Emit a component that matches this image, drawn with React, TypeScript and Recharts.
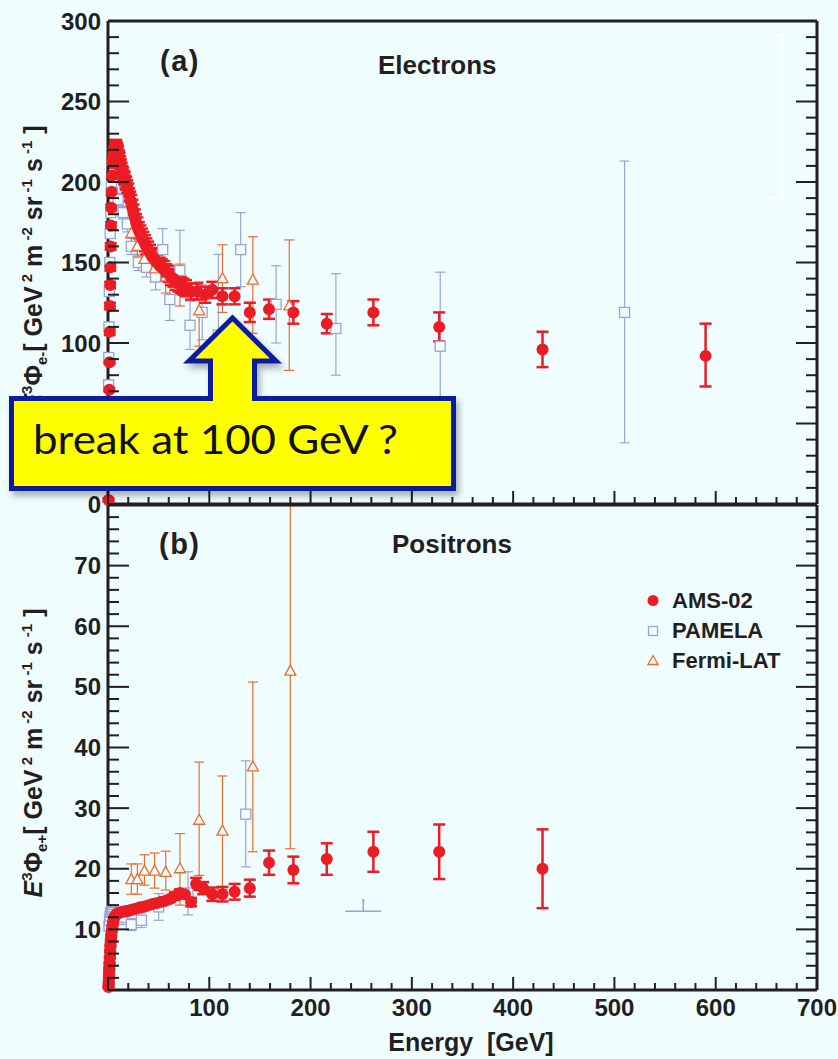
import React from 'react';
import { ScatterChart, Scatter, XAxis, YAxis, ErrorBar } from 'recharts';

const BG = '#effdff';
const INK = '#231f20';
const RED = '#ec1c24';
const BLUE = '#9ca2d6';
const ORANGE = '#f26a2b';
const FONT = '"Liberation Sans", Arial, Helvetica, sans-serif';

// ---------- tick values ----------
const xTicks = Array.from({ length: 36 }, (_, i) => i * 20);
const xLabels = [100, 200, 300, 400, 500, 600, 700];
const yTicksTop = Array.from({ length: 31 }, (_, i) => i * 10);
const yLabelsTop = [0, 50, 100, 150, 200, 250, 300];
const yTicksBottom = Array.from({ length: 41 }, (_, i) => i * 2);
const yLabelsBottom = [10, 20, 30, 40, 50, 60, 70];

// ---------- (a) electrons ----------
const amsEleE = [
  0.5, 0.7, 0.9, 1.1, 1.3, 1.5, 1.7, 1.9, 2.1, 2.3, 2.6, 2.9, 3.2, 3.6, 4.0,
  4.5, 4.8, 5.2, 5.5, 5.8, 6.1, 6.5, 6.9, 7.3, 7.7, 8.1, 8.5, 9.0, 9.5, 10, 10.5, 11, 11.5, 12, 12.7,
  13.5, 14.2, 15, 15.7, 16.5, 17.2, 18, 19, 20, 21, 22, 23, 24, 25.2, 26.5, 27.7, 29, 30.5, 32, 33.5,
  35, 36.5, 38, 39.7, 41.5, 43.2, 45, 47, 49, 51, 53, 55, 57.5, 59.7, 62, 64.5, 67, 69.5, 72, 74.5, 77, 82,
  88, 96, 103, 113, 125, 140, 159, 183, 216, 262, 327, 429, 590,
];
const amsEleV = [
  2.5, 20, 38, 55, 71, 88, 107, 123, 136, 147, 160, 173, 184, 194, 204,
  212, 214, 216, 218, 220, 221, 222, 223, 223, 223, 222, 221, 220, 219, 218, 216, 215, 214, 212, 210,
  208, 206, 205, 203, 202, 200, 199, 197, 195, 192, 189, 187, 184, 181, 178, 175, 173, 170, 168, 166,
  164, 162, 160, 158, 156, 154, 153, 151, 150, 148, 147, 146, 144, 143, 141, 140, 138, 137, 136, 135, 134, 132,
  132, 130, 133, 129, 129, 119, 121, 119, 112, 119, 110, 96, 92,
];
const amsEleLo = [
  1, 1, 1, 1, 1, 1, 2, 2, 2, 2, 2, 2, 2, 2, 2,
  3, 3, 3, 3, 3, 3, 3, 3, 3, 3, 4, 4, 4, 4, 4, 4, 4, 4, 4, 4,
  4, 4, 4, 4, 4, 4, 4, 4, 4, 4, 5, 5, 5, 5, 5, 5, 5, 5, 5, 5,
  5, 5, 5, 5, 5, 5, 5, 5, 5, 5, 5, 5, 5, 5, 5, 5, 5, 5, 5, 5, 5, 5,
  5, 5, 5, 5, 5, 6, 6, 7, 6, 8, 9, 11, 19,
];
const amsEleHi = [
  1, 1, 1, 1, 1, 1, 2, 2, 2, 2, 2, 2, 2, 2, 2,
  3, 3, 3, 3, 3, 3, 3, 3, 3, 3, 4, 4, 4, 4, 4, 4, 4, 4, 4, 4,
  4, 4, 4, 4, 4, 4, 4, 4, 4, 4, 5, 5, 5, 5, 5, 5, 5, 5, 5, 5,
  5, 5, 5, 5, 5, 5, 5, 5, 5, 5, 5, 5, 5, 5, 5, 5, 5, 5, 5, 5, 5, 5,
  5, 5, 5, 5, 5, 6, 6, 7, 6, 8, 9, 11, 20,
];

const pamEleE = [0.6, 0.8, 1.0, 1.3, 1.7, 2.2, 2.8, 3.4, 10, 15, 19, 23, 30, 38, 47, 54, 61, 71, 81, 93, 109, 131, 166, 225, 328, 510];
const pamEleV = [74, 91, 110, 132, 150, 168, 181, 197, 189, 181, 174, 160, 150, 147, 141, 158, 127, 145, 111, 119, 105, 158, 124, 109, 98, 119];
const pamEleLo = [3, 3, 3, 3, 3, 3, 3, 3, 4, 4, 5, 5, 5, 6, 8, 10, 13, 15, 15, 17, 50, 23, 24, 29, 46, 81];
const pamEleHi = [3, 3, 3, 3, 3, 3, 3, 3, 4, 4, 5, 5, 5, 6, 8, 13, 13, 25, 15, 17, 50, 23, 24, 34, 46, 94];

const fermiEleE = [23, 29, 36, 46, 57, 71, 90, 113, 143, 179];
const fermiEleV = [168, 160, 152, 146, 141, 136, 120, 140, 139, 123];
const fermiEleLo = [6, 6, 7, 8, 10, 13, 22, 21, 33, 40];
const fermiEleHi = [6, 6, 7, 8, 10, 13, 18, 21, 27, 41];

// ---------- (b) positrons ----------
const amsPosE = [0.5, 0.7, 0.9, 1.1, 1.3, 1.5, 1.8, 2.1, 2.4, 2.8, 3.2, 3.7, 4.2, 4.8, 5.5, 6.3, 7.2, 8.2, 9.3, 10.5, 12, 13.5, 15, 17, 19, 21, 23, 25.5, 28, 31, 34, 37, 40.5, 44, 48, 52, 56.5, 61, 66, 71, 76, 82, 87, 94, 103, 113, 125, 140, 159, 183, 216, 262, 327, 429];
const amsPosV = [0.5, 1.2, 2.0, 2.8, 3.6, 4.4, 5.4, 6.4, 7.3, 8.2, 9.0, 9.8, 10.5, 11.1, 11.6, 12.0, 12.3, 12.5, 12.6, 12.7, 12.8, 12.9, 12.9, 13.0, 13.0, 13.1, 13.2, 13.3, 13.4, 13.6, 13.7, 13.8, 14.0, 14.2, 14.3, 14.5, 14.7, 15.0, 15.5, 16.0, 15.8, 14.5, 17.5, 16.8, 15.8, 15.8, 16.2, 16.8, 21.0, 19.8, 21.6, 22.8, 22.8, 20.0];
const amsPosLo = [0.2, 0.2, 0.2, 0.2, 0.2, 0.2, 0.2, 0.2, 0.2, 0.2, 0.2, 0.2, 0.2, 0.2, 0.2, 0.2, 0.2, 0.2, 0.2, 0.2, 0.3, 0.3, 0.3, 0.3, 0.3, 0.3, 0.3, 0.3, 0.3, 0.3, 0.3, 0.3, 0.4, 0.4, 0.4, 0.4, 0.5, 0.5, 0.6, 0.6, 0.7, 0.7, 1.0, 1.0, 1.1, 1.2, 1.3, 1.4, 2.0, 2.2, 2.6, 3.3, 4.5, 6.5];
const amsPosHi = [0.2, 0.2, 0.2, 0.2, 0.2, 0.2, 0.2, 0.2, 0.2, 0.2, 0.2, 0.2, 0.2, 0.2, 0.2, 0.2, 0.2, 0.2, 0.2, 0.2, 0.3, 0.3, 0.3, 0.3, 0.3, 0.3, 0.3, 0.3, 0.3, 0.3, 0.3, 0.3, 0.4, 0.4, 0.4, 0.4, 0.5, 0.5, 0.6, 0.6, 0.7, 0.7, 1.0, 1.0, 1.1, 1.2, 1.3, 1.4, 2.0, 2.2, 2.6, 3.3, 4.5, 6.5];

const pamPosE = [1.0, 1.5, 2.0, 2.7, 3.5, 4.5, 6, 8, 14, 23, 33, 50, 79, 136];
const pamPosV = [10.5, 11.5, 12.2, 12.8, 13.0, 12.8, 12.5, 12.0, 12.0, 10.8, 11.5, 13.7, 16.0, 29.0];
const pamPosLo = [0.5, 0.5, 0.5, 0.5, 0.5, 0.5, 0.6, 0.6, 1.2, 1.0, 1.2, 2.2, 3.6, 8.7];
const pamPosHi = [0.5, 0.5, 0.5, 0.5, 0.5, 0.5, 0.6, 0.6, 1.2, 1.0, 1.2, 2.2, 3.5, 8.8];
const pamPosLimitE = [252];
const pamPosLimitV = [13];

const fermiPosE = [23, 29, 36, 46, 57, 71, 90, 113, 143, 180];
const fermiPosV = [18.2, 18.2, 19.6, 19.6, 19.4, 20.0, 28.0, 26.2, 36.8, 52.6];
const fermiPosLo = [2.4, 2.4, 2.3, 2.8, 2.9, 6.0, 9.1, 9.6, 14.0, 29.3];
const fermiPosHi = [2.6, 2.6, 2.7, 3.0, 3.5, 5.8, 9.6, 9.1, 14.0, 27.3];

const rows = (E: number[], V: number[], Lo: number[], Hi: number[]) =>
  E.map((x, i) => ({ x, y: V[i], err: [Lo[i], Hi[i]] }));

const amsEle = rows(amsEleE, amsEleV, amsEleLo, amsEleHi);
const pamEle = rows(pamEleE, pamEleV, pamEleLo, pamEleHi);
const fermiEle = rows(fermiEleE, fermiEleV, fermiEleLo, fermiEleHi);
const amsPos = rows(amsPosE, amsPosV, amsPosLo, amsPosHi);
const pamPos = rows(pamPosE, pamPosV, pamPosLo, pamPosHi);
const fermiPos = rows(fermiPosE, fermiPosV, fermiPosLo, fermiPosHi);
const pamPosLimit = pamPosLimitE.map((x, i) => ({ x, y: pamPosLimitV[i] }));

// ---------- shapes ----------
const circleShape = (p: any) => <circle cx={p.cx} cy={p.cy} r={6} fill={RED} />;
const squareShape = (p: any) => (
  <rect x={p.cx - 5} y={p.cy - 5} width={10} height={10} fill={BG} stroke={BLUE} strokeWidth={1.3} />
);
const triShape = (p: any) => (
  <polygon
    points={`${p.cx},${p.cy - 6} ${p.cx - 5.5},${p.cy + 4} ${p.cx + 5.5},${p.cy + 4}`}
    fill={BG}
    stroke={ORANGE}
    strokeWidth={1.3}
  />
);
const limitShape = (p: any) => (
  <g stroke={BLUE} strokeWidth={1.5}>
    <line x1={p.cx - 18} x2={p.cx + 18} y1={p.cy} y2={p.cy} />
    <line x1={p.cx} x2={p.cx} y1={p.cy} y2={p.cy - 11} />
    <line x1={p.cx - 1.5} x2={p.cx + 1.5} y1={p.cy - 11} y2={p.cy - 11} />
  </g>
);

// ---------- ticks ----------
type Side = 'bottom' | 'top' | 'left' | 'right';
function makeTick(side: Side, majorEvery: number, labels: number[], majorLen: number, minorLen: number) {
  return (props: any) => {
    const { x, y, payload } = props;
    const v = payload.value;
    const major = Math.abs(v % majorEvery) < 1e-9;
    const len = major ? majorLen : minorLen;
    let line: any = null;
    if (side === 'bottom') line = <line x1={x} x2={x} y1={y} y2={y - len} />;
    if (side === 'top') line = <line x1={x} x2={x} y1={y} y2={y + len} />;
    if (side === 'left') line = <line x1={x} x2={x + len} y1={y} y2={y} />;
    if (side === 'right') line = <line x1={x} x2={x - len} y1={y} y2={y} />;
    let label: any = null;
    if (labels.includes(v)) {
      if (side === 'bottom')
        label = (
          <text x={x} y={y + 26} textAnchor="middle" fontFamily={FONT} fontWeight="bold" fontSize={24} fill={INK} stroke="none">
            {v}
          </text>
        );
      if (side === 'left')
        label = (
          <text x={x - 7} y={y + 8.5} textAnchor="end" fontFamily={FONT} fontWeight="bold" fontSize={24} fill={INK} stroke="none">
            {v}
          </text>
        );
    }
    return (
      <g stroke={INK} strokeWidth={2}>
        {line}
        {label}
      </g>
    );
  };
}

const frame = { stroke: INK, strokeWidth: 3 };

function YTitle({ cx, cy, sign }: { cx: number; cy: number; sign: string }) {
  const sup = 15;
  const d = 10;
  return (
    <text x={cx} y={cy} transform={`rotate(-90 ${cx} ${cy})`} textAnchor="middle" fontFamily={FONT} fontWeight="bold" fontSize={25} fill={INK}>
      <tspan fontStyle="italic">E</tspan>
      <tspan fontSize={sup} dy={-d}>3</tspan>
      <tspan dy={d}>Φ</tspan>
      <tspan fontSize={sup} dy={5}>{'e' + sign}</tspan>
      <tspan dy={-5}>[ GeV</tspan>
      <tspan fontSize={sup} dy={-d}>{'\u00a02'}</tspan>
      <tspan dy={d}>{'\u00a0m'}</tspan>
      <tspan fontSize={sup} dy={-d}>{'\u00a0-2'}</tspan>
      <tspan dy={d}>{'\u00a0sr'}</tspan>
      <tspan fontSize={sup} dy={-d}>{'\u00a0-1'}</tspan>
      <tspan dy={d}>{'\u00a0s'}</tspan>
      <tspan fontSize={sup} dy={-d}>{'\u00a0-1'}</tspan>
      <tspan dy={d}>{'\u00a0]'}</tspan>
    </text>
  );
}

export default function App() {
  return (
    <div style={{ position: 'absolute', left: 0, top: 0, width: 838, height: 1059, background: BG, overflow: 'hidden' }}>
      {/* (a) Electrons */}
      <div style={{ position: 'absolute', left: 0, top: 0 }}>
        <ScatterChart width={838} height={530} margin={{ top: 0, right: 0, bottom: 0, left: 0 }}>
          <XAxis xAxisId={0} dataKey="x" type="number" domain={[0, 700]} ticks={xTicks} interval={0} orientation="bottom" height={26} tickSize={0} tickMargin={0} tickLine={false} axisLine={frame} tick={makeTick('bottom', 100, [], 13, 7)} />
          <XAxis xAxisId="t" type="number" domain={[0, 700]} allowDataOverflow ticks={xTicks} interval={0} orientation="top" height={21} tickSize={0} tickMargin={0} tickLine={false} axisLine={frame} tick={makeTick('top', 100, [], 13, 7)} />
          <YAxis yAxisId={0} dataKey="y" type="number" domain={[0, 300]} ticks={yTicksTop} interval={0} orientation="left" width={108} tickSize={0} tickMargin={0} tickLine={false} axisLine={frame} tick={makeTick('left', 50, yLabelsTop, 21, 11)} />
          <YAxis yAxisId="r" type="number" domain={[0, 300]} allowDataOverflow ticks={yTicksTop} interval={0} orientation="right" width={21} tickSize={0} tickMargin={0} tickLine={false} axisLine={frame} tick={makeTick('right', 50, [], 21, 11)} />
          <Scatter name="PAMELA" data={pamEle} shape={squareShape} isAnimationActive={false}>
            <ErrorBar dataKey="err" direction="y" width={5} strokeWidth={1.2} stroke={BLUE} />
          </Scatter>
          <Scatter name="Fermi-LAT" data={fermiEle} shape={triShape} isAnimationActive={false}>
            <ErrorBar dataKey="err" direction="y" width={5} strokeWidth={1.2} stroke={ORANGE} />
          </Scatter>
          <Scatter name="AMS-02" data={amsEle} shape={circleShape} isAnimationActive={false}>
            <ErrorBar dataKey="err" direction="y" width={6} strokeWidth={2.5} stroke={RED} />
          </Scatter>
        </ScatterChart>
      </div>

      {/* (b) Positrons */}
      <div style={{ position: 'absolute', left: 0, top: 484 }}>
        <ScatterChart width={838} height={575} margin={{ top: 0, right: 0, bottom: 0, left: 0 }}>
          <XAxis xAxisId={0} dataKey="x" type="number" domain={[0, 700]} ticks={xTicks} interval={0} orientation="bottom" height={69} tickSize={0} tickMargin={0} tickLine={false} axisLine={frame} tick={makeTick('bottom', 100, xLabels, 13, 7)} />
          <XAxis xAxisId="t" type="number" domain={[0, 700]} allowDataOverflow ticks={xTicks} interval={0} orientation="top" height={21} tickSize={0} tickMargin={0} tickLine={false} axisLine={frame} tick={makeTick('top', 100, [], 13, 7)} />
          <YAxis yAxisId={0} dataKey="y" type="number" domain={[0, 80]} ticks={yTicksBottom} interval={0} orientation="left" width={108} tickSize={0} tickMargin={0} tickLine={false} axisLine={frame} tick={makeTick('left', 10, yLabelsBottom, 21, 11)} />
          <YAxis yAxisId="r" type="number" domain={[0, 80]} allowDataOverflow ticks={yTicksBottom} interval={0} orientation="right" width={21} tickSize={0} tickMargin={0} tickLine={false} axisLine={frame} tick={makeTick('right', 10, [], 21, 11)} />
          <Scatter name="PAMELA" data={pamPos} shape={squareShape} isAnimationActive={false}>
            <ErrorBar dataKey="err" direction="y" width={5} strokeWidth={1.2} stroke={BLUE} />
          </Scatter>
          <Scatter name="PAMELA limit" data={pamPosLimit} shape={limitShape} isAnimationActive={false} />
          <Scatter name="Fermi-LAT" data={fermiPos} shape={triShape} isAnimationActive={false}>
            <ErrorBar dataKey="err" direction="y" width={5} strokeWidth={1.2} stroke={ORANGE} />
          </Scatter>
          <Scatter name="AMS-02" data={amsPos} shape={circleShape} isAnimationActive={false}>
            <ErrorBar dataKey="err" direction="y" width={6} strokeWidth={2.5} stroke={RED} />
          </Scatter>
        </ScatterChart>
      </div>

      {/* annotations */}
      <svg width={838} height={1059} style={{ position: 'absolute', left: 0, top: 0, pointerEvents: 'none' }}>
        <defs>
          <filter id="shadow" x="-10%" y="-20%" width="125%" height="150%">
            <feDropShadow dx="3" dy="5" stdDeviation="3" floodColor="#000" floodOpacity="0.3" />
          </filter>
        </defs>
        <path d="M 661 35 H 783 V 198 H 661" fill="none" stroke="#ffffff" strokeWidth={1.5} />
        <text x={160} y={71} fontFamily={FONT} fontWeight="bold" fontSize={29} letterSpacing={1.5} fill={INK}>(a)</text>
        <text x={378} y={74} fontFamily={FONT} fontWeight="bold" fontSize={26} fill={INK}>Electrons</text>
        <text x={159} y={554} fontFamily={FONT} fontWeight="bold" fontSize={29} letterSpacing={1.5} fill={INK}>(b)</text>
        <text x={392} y={553} fontFamily={FONT} fontWeight="bold" fontSize={26} fill={INK}>Positrons</text>
        <text x={471} y={1051} textAnchor="middle" fontFamily={FONT} fontWeight="bold" fontSize={25} fill={INK}>{'Energy\u00a0\u00a0[GeV]'}</text>
        <YTitle cx={42} cy={268} sign="-" />
        <YTitle cx={42} cy={753} sign="+" />

        {/* legend */}
        <g fontFamily={FONT} fontWeight="bold" fontSize={22} fill={INK}>
          <circle cx={653} cy={600.5} r={5.5} fill={RED} />
          <text x={672} y={608}>AMS-02</text>
          <rect x={648.5} y={626.5} width={9} height={9} fill="none" stroke={BLUE} strokeWidth={1.3} />
          <text x={672} y={638}>PAMELA</text>
          <polygon points="653,655.5 648,664.5 658,664.5" fill="none" stroke={ORANGE} strokeWidth={1.3} />
          <text x={672} y={668}>Fermi-LAT</text>
        </g>

        {/* callout */}
        <g filter="url(#shadow)">
          <path
            d="M 11.5 398.5 L 210.5 398.5 L 210.5 361 L 189 361 L 232.5 318 L 276 361 L 254.5 361 L 254.5 398.5 L 453.5 398.5 L 453.5 488.5 L 11.5 488.5 Z"
            fill="#ffff00"
            stroke="#0a1e9a"
            strokeWidth={5}
            strokeLinejoin="miter"
          />
        </g>
        <text x={33} y={454} fontFamily="Lato, 'Open Sans', sans-serif" fontSize={41} fill="#111" textLength={365} lengthAdjust="spacingAndGlyphs">
          break at 100 GeV ?
        </text>
      </svg>
    </div>
  );
}
